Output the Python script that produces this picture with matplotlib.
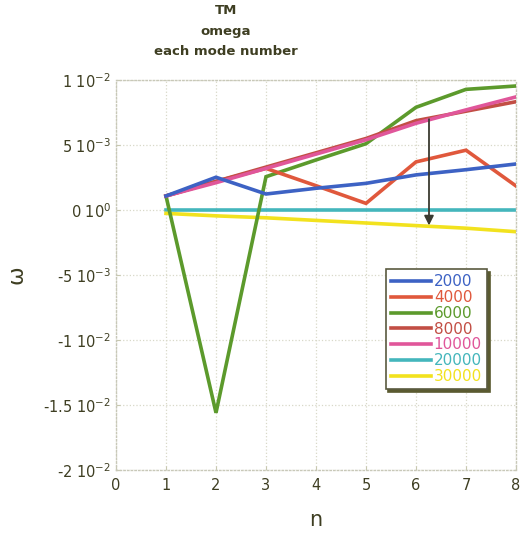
import numpy as np
import matplotlib
matplotlib.use("Agg")
import matplotlib.pyplot as plt

# mode numbers and omega for each source setting
n = [1, 2, 3, 4, 5, 6, 7, 8]
labels = ["2000", "4000", "6000", "8000", "10000", "20000", "30000"]
w_2000 = [0.00108, 0.00252, 0.00123, 0.00167, 0.00205, 0.0027, 0.0031, 0.00354]
w_4000 = [0.00108, 0.0022, 0.0032, 0.00187, 0.00051, 0.0037, 0.0046, 0.00185]
w_6000 = [0.00108, -0.0156, 0.00256, 0.00385, 0.0051, 0.0079, 0.00928, 0.00954]
w_8000 = [0.00108, 0.0022, 0.0033, 0.0044, 0.0055, 0.00687, 0.0076, 0.00833]
w_10000 = [0.00108, 0.0021, 0.0032, 0.0043, 0.0054, 0.00667, 0.0077, 0.0087]
w_20000 = [0.0, 0.0, 0.0, 0.0, 0.0, 0.0, 0.0, 0.0]
w_30000 = [-0.00026, -0.00045, -0.0006, -0.0008, -0.001, -0.0012, -0.0014, -0.00167]
colors = ["#3d62c4", "#e0583c", "#5c9a2c", "#c24e44", "#e0569a", "#44b6bc", "#f2e21e"]

yticks = [-0.02, -0.015, -0.01, -0.005, 0.0, 0.005, 0.01]
yticklabels = [r"-2 10$^{-2}$", r"-1.5 10$^{-2}$", r"-1 10$^{-2}$", r"-5 10$^{-3}$",
               r"0 10$^{0}$", r"5 10$^{-3}$", r"1 10$^{-2}$"]

# arrow showing the trend with increasing setting
arrow_n = 6.26
arrow_top = 0.0072
arrow_bottom = -0.0014

txt = "#3e3e22"
plt.rcParams["font.family"] = ["DejaVu Sans"]
plt.rcParams["mathtext.fontset"] = "dejavusans"

fig = plt.figure(figsize=(5.28, 5.37), dpi=100)
ax = fig.add_axes([116 / 528, 1 - 470 / 537, 400 / 528, 390 / 537])

series = [w_2000, w_4000, w_6000, w_8000, w_10000, w_20000, w_30000]
zorders = [6, 4, 3, 5, 5, 2, 2]
for w, lab, c, z in zip(series, labels, colors, zorders):
    ax.plot(n, w, color=c, lw=2.6, label=lab, zorder=z, solid_joinstyle="miter")

ax.annotate("", xy=(arrow_n, arrow_bottom), xytext=(arrow_n, arrow_top),
            arrowprops=dict(arrowstyle="-|>", color="#3a3a30", lw=1.3,
                            mutation_scale=14), zorder=7)

ax.set_xlim(0, 8)
ax.set_ylim(-0.02, 0.01)
ax.set_xticks(range(9))
ax.set_yticks(yticks)
ax.set_yticklabels(yticklabels)
ax.tick_params(colors="#c8c8b0", labelcolor=txt, labelsize=10.5, length=3, direction="in")
ax.tick_params(axis="x", pad=6)
ax.grid(True, color="#d8d8c8", ls=":", lw=0.9)
for s in ax.spines.values():
    s.set_color("#c8c8b8")
    s.set_linestyle(":")
    s.set_linewidth(1.0)

ax.set_xlabel("n", fontsize=15, color=txt, labelpad=12)
ax.set_ylabel("ω", fontsize=16, color=txt, labelpad=12, rotation=90)
ax.set_title("TM\nomega\neach mode number", fontsize=9.5, color=txt, fontweight="bold",
             pad=18, x=0.275, linespacing=1.75)

leg = ax.legend(loc="upper left", bbox_to_anchor=(0.655, 0.535), fontsize=11,
                labelcolor="linecolor", handlelength=2.6, handletextpad=0.2,
                labelspacing=0.05, borderpad=0.35, shadow={"color": "#5a5a30", "alpha": 1},
                fancybox=False, frameon=True, edgecolor="#5a5a40")
leg.get_frame().set_linewidth(1.2)
leg.set_zorder(10)

fig.savefig("out.png", dpi=100)
